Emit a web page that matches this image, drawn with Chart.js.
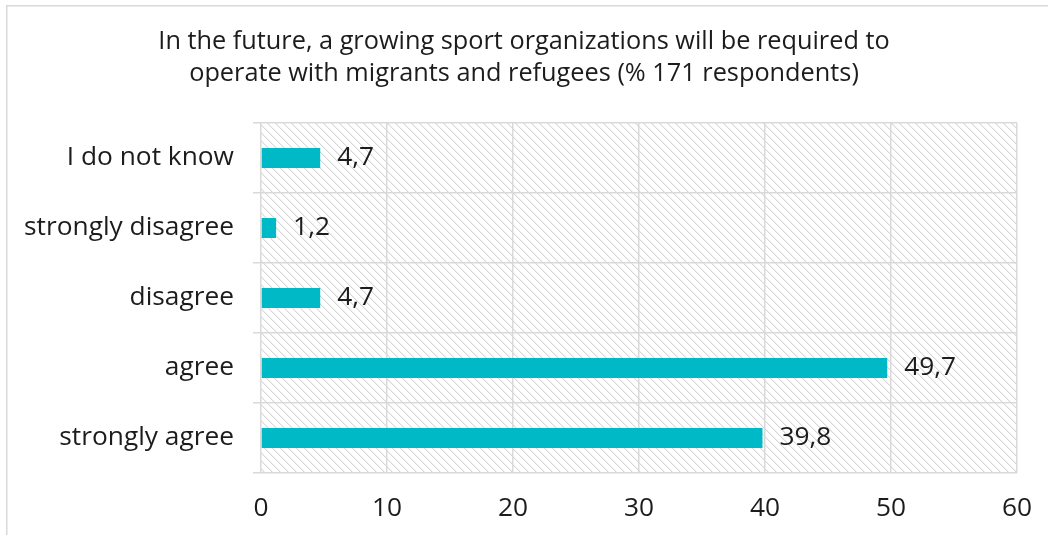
<!DOCTYPE html>
<html>
<head>
<meta charset="utf-8">
<script src="https://cdn.jsdelivr.net/npm/chart.js@4.4.1/dist/chart.umd.min.js"></script>
<style>
  html, body { margin: 0; padding: 0; background: #ffffff; }
  #wrap { width: 1048px; height: 535px; position: relative; }
</style>
</head>
<body>
<div id="wrap"><canvas id="chart" width="1048" height="535"></canvas></div>
<script>
// Survey answers, top to bottom as listed on the vertical axis
const categories = ['I do not know', 'strongly disagree', 'disagree', 'agree', 'strongly agree'];
// Share of respondents per answer (%)
const shares = [4.7, 1.2, 4.7, 49.7, 39.8];
// Horizontal axis ticks
const xTicks = [0, 10, 20, 30, 40, 50, 60];
const titleLines = [
  'In the future, a growing sport organizations will be required to',
  'operate with migrants and refugees (% 171 respondents)'
];

const FONT = '"Open Sans", Lato, sans-serif';
const FSIZE = 26.3;
const TSIZE = 25.3;
const TEXT = '#1c1c1c';
const GRID = '#d9d9d9';
const BAR = '#00b9c6';

// Light diagonal hatch used as the plot-area background
function makeHatch() {
  const c = document.createElement('canvas');
  c.width = 8; c.height = 8;
  const g = c.getContext('2d');
  g.fillStyle = '#ffffff';
  g.fillRect(0, 0, 8, 8);
  for (let i = 0; i < 8; i++) {
    g.fillStyle = '#d8d8d8';
    g.fillRect(i, i, 1, 1);
    g.fillStyle = '#efefef';
    g.fillRect((i + 1) % 8, i, 1, 1);
  }
  return g.createPattern(c, 'repeat');
}

const frameAndHatch = {
  id: 'frameAndHatch',
  beforeDraw(chart) {
    const ctx = chart.ctx;
    const a = chart.chartArea;
    ctx.save();
    ctx.fillStyle = '#ffffff';
    ctx.fillRect(0, 0, chart.width, chart.height);
    ctx.strokeStyle = GRID;
    ctx.lineWidth = 1.5;
    ctx.beginPath();
    ctx.moveTo(6.75, chart.height);
    ctx.lineTo(6.75, 5.75);
    ctx.lineTo(chart.width, 5.75);
    ctx.stroke();
    ctx.fillStyle = makeHatch();
    ctx.fillRect(a.left, a.top, a.right - a.left, a.bottom - a.top);
    ctx.restore();
  }
};

const valueLabels = {
  id: 'valueLabels',
  afterDatasetsDraw(chart) {
    const ctx = chart.ctx;
    const meta = chart.getDatasetMeta(0);
    ctx.save();
    ctx.font = FSIZE + 'px ' + FONT;
    ctx.fillStyle = TEXT;
    ctx.textAlign = 'left';
    ctx.textBaseline = 'middle';
    meta.data.forEach((bar, i) => {
      const txt = shares[i].toFixed(1).replace('.', ',');
      ctx.fillText(txt, bar.x + 17, bar.y);
    });
    ctx.restore();
  }
};

new Chart(document.getElementById('chart'), {
  type: 'bar',
  data: {
    labels: categories,
    datasets: [{
      data: shares,
      backgroundColor: BAR,
      borderWidth: 0,
      barPercentage: 0.286,
      categoryPercentage: 1
    }]
  },
  options: {
    indexAxis: 'y',
    responsive: false,
    animation: false,
    devicePixelRatio: 1,
    layout: { padding: { top: 0, left: 10, right: 10, bottom: 0 } },
    plugins: {
      legend: { display: false },
      tooltip: { enabled: false },
      title: {
        display: true,
        text: titleLines,
        color: TEXT,
        font: { family: FONT, size: TSIZE, weight: 'normal', lineHeight: '32px' },
        padding: { top: 26, bottom: 33 }
      }
    },
    scales: {
      x: {
        min: 0,
        max: 60,
        afterBuildTicks(scale) { scale.ticks = xTicks.map(v => ({ value: v })); },
        afterFit(scale) {
          scale.height = 62;
          scale.paddingLeft = 0;
          scale.paddingRight = 31;
        },
        grid: { color: GRID, lineWidth: 1.5, drawTicks: false },
        border: { display: false },
        ticks: { color: TEXT, font: { family: FONT, size: FSIZE }, padding: 20 }
      },
      y: {
        afterFit(scale) {
          scale.width = 251;
          scale.paddingTop = 0;
          scale.paddingBottom = 0;
        },
        grid: { color: GRID, lineWidth: 1.5, offset: true, tickLength: 8, drawTicks: true },
        border: { display: false },
        ticks: { color: TEXT, font: { family: FONT, size: FSIZE }, padding: 19 }
      }
    }
  },
  plugins: [frameAndHatch, valueLabels]
});
</script>
</body>
</html>
